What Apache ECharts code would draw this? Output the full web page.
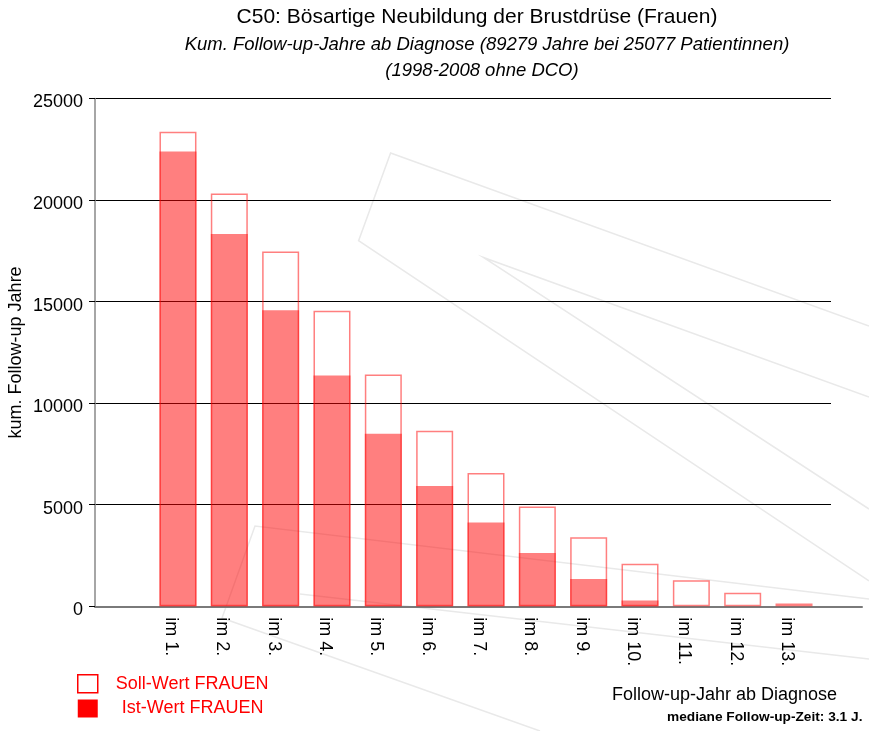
<!DOCTYPE html>
<html><head><meta charset="utf-8">
<script src="https://cdn.jsdelivr.net/npm/echarts@6/dist/echarts.min.js"></script>
<style>html,body{margin:0;padding:0;background:#fff}#c{width:869px;height:731px}</style>
</head><body><div id="c"></div>
<script>
// ---- data ----
const categories = ['im 1.', 'im 2.', 'im 3.', 'im 4.', 'im 5.', 'im 6.', 'im 7.', 'im 8.', 'im 9.', 'im 10.', 'im 11.', 'im 12.', 'im 13.'];
const sollValues = [23360, 20320, 17470, 14550, 11410, 8640, 6560, 4910, 3400, 2100, 1280, 670, 140];
const istValues  = [22390, 18330, 14580, 11360, 8500, 5920, 4120, 2620, 1340, 290, 0, 0, 0];
const yMin = 0, yMax = 25000, yStep = 5000;
const seriesNames = ['Soll-Wert FRAUEN', 'Ist-Wert FRAUEN'];

const FONT = "'Liberation Sans', Arial, sans-serif";
const BAR = 'rgba(255,0,0,0.5)';
const plotTop = 98.5, plotBottom = 124.7;

const wm = { stroke: '#e9e9e9', lineWidth: 1.5, fill: null };
const gridBase = { top: plotTop, bottom: plotBottom, containLabel: false, outerBoundsMode: 'none' };
const chart = echarts.init(document.getElementById('c'), null, { renderer: 'canvas' });
chart.setOption({
  animation: false,
  backgroundColor: '#fff',
  textStyle: { fontFamily: FONT },
  title: [
    { text: 'C50: Bösartige Neubildung der Brustdrüse (Frauen)', left: 477, top: 7, padding: 0, textAlign: 'center',
      textStyle: { fontSize: 21, fontWeight: 'normal', color: '#000', fontFamily: FONT } },
    { text: 'Kum. Follow-up-Jahre ab Diagnose (89279 Jahre bei 25077 Patientinnen)', left: 487, top: 35, padding: 0, textAlign: 'center',
      textStyle: { fontSize: 18.5, fontStyle: 'italic', fontWeight: 'normal', color: '#000', fontFamily: FONT } },
    { text: '(1998-2008 ohne DCO)', left: 482, top: 61, padding: 0, textAlign: 'center',
      textStyle: { fontSize: 18.5, fontStyle: 'italic', fontWeight: 'normal', color: '#000', fontFamily: FONT } },
    { text: 'Follow-up-Jahr ab Diagnose', left: 612, top: 686, padding: 0,
      textStyle: { fontSize: 18, fontWeight: 'normal', color: '#000', fontFamily: FONT } },
    { text: 'mediane Follow-up-Zeit: 3.1 J.', left: 667, top: 710, padding: 0,
      textStyle: { fontSize: 13.7, fontWeight: 'bold', color: '#000', fontFamily: FONT } }
  ],
  legend: {
    orient: 'vertical', left: 77, top: 674, padding: 0, itemGap: 6,
    itemWidth: 20, itemHeight: 18, icon: 'rect',
    textStyle: { fontSize: 18, color: '#f00', fontFamily: FONT },
    data: [
      { name: seriesNames[0], itemStyle: { color: '#fff', borderColor: '#f00', borderWidth: 1.5 },
        textStyle: { color: '#f00', padding: [0, 0, 0, 13] } },
      { name: seriesNames[1], itemStyle: { color: '#f00', borderWidth: 0 },
        textStyle: { color: '#f00', padding: [0, 0, 0, 19] } }
    ]
  },
  grid: [
    Object.assign({ left: 95, right: 38 }, gridBase),          // gridlines + y axis
    Object.assign({ left: 152.3, right: 49.3 }, gridBase),     // bars
    Object.assign({ left: 95, right: 7 }, gridBase),           // long bottom axis line
    Object.assign({ left: 145.3, right: 56.3 }, gridBase)      // category labels
  ],
  xAxis: [
    { gridIndex: 0, type: 'value', show: false, min: 0, max: 1 },
    { gridIndex: 1, type: 'category', data: categories, boundaryGap: true,
      axisLine: { show: false }, axisTick: { show: false }, axisLabel: { show: false } },
    { gridIndex: 2, type: 'value', min: 0, max: 1, offset: 6,
      axisLine: { show: true, lineStyle: { color: '#7a7a7a', width: 2 } },
      axisTick: { show: false }, axisLabel: { show: false }, splitLine: { show: false } },
    { gridIndex: 3, type: 'category', data: categories, boundaryGap: true,
      axisLine: { show: false }, axisTick: { show: false },
      axisLabel: { rotate: -90, margin: 11, fontSize: 18, color: '#000', fontFamily: FONT, interval: 0 } }
  ],
  yAxis: [
    { gridIndex: 0, type: 'value', min: yMin, max: yMax, interval: yStep,
      name: 'kum. Follow-up Jahre', nameLocation: 'middle', nameGap: 70, nameMoveOverlap: false,
      nameTextStyle: { fontSize: 18, color: '#000', fontFamily: FONT },
      axisLine: { show: true, lineStyle: { color: '#888', width: 1.5 } },
      axisTick: { show: true, inside: false, length: 6, lineStyle: { color: '#000' } },
      axisLabel: { color: '#000', margin: 12, fontFamily: FONT,
        formatter: v => '{a|' + v + '}',
        rich: { a: { fontSize: 18, color: '#000', fontFamily: FONT, padding: [8, 0, 0, 0] } } },
      splitLine: { show: true, lineStyle: { color: '#000', width: 1 } } },
    { gridIndex: 1, type: 'value', min: yMin, max: yMax, show: false },
    { gridIndex: 2, type: 'value', min: 0, max: 1, show: false },
    { gridIndex: 3, type: 'value', min: 0, max: 1, show: false }
  ],
  graphic: {
    elements: [
      { type: 'polyline', silent: true, z: -10, shape: { points: [[869, 326], [390.6, 153], [358.6, 240.7], [869, 581]] }, style: wm },
      { type: 'polyline', silent: true, z: -10, shape: { points: [[869, 397], [483.4, 257.5], [869, 509]] }, style: wm },
      { type: 'polyline', silent: true, z: -10, shape: { points: [[869, 599], [255, 526], [222, 618], [540, 731]] }, style: wm },
      { type: 'polyline', silent: true, z: -10, shape: { points: [[869, 659], [300, 594]] }, style: wm }
    ]
  },
  series: [
    { name: seriesNames[0], type: 'bar', xAxisIndex: 1, yAxisIndex: 1, data: sollValues,
      barWidth: 37, barGap: '-100%', z: 2,
      itemStyle: { color: 'rgba(255,255,255,0)', borderColor: BAR, borderWidth: 1.5 } },
    { name: seriesNames[1], type: 'bar', xAxisIndex: 1, yAxisIndex: 1, data: istValues,
      barWidth: 37, barGap: '-100%', z: 3,
      itemStyle: { color: BAR, borderWidth: 0 } }
  ]
});
</script>
</body></html>
